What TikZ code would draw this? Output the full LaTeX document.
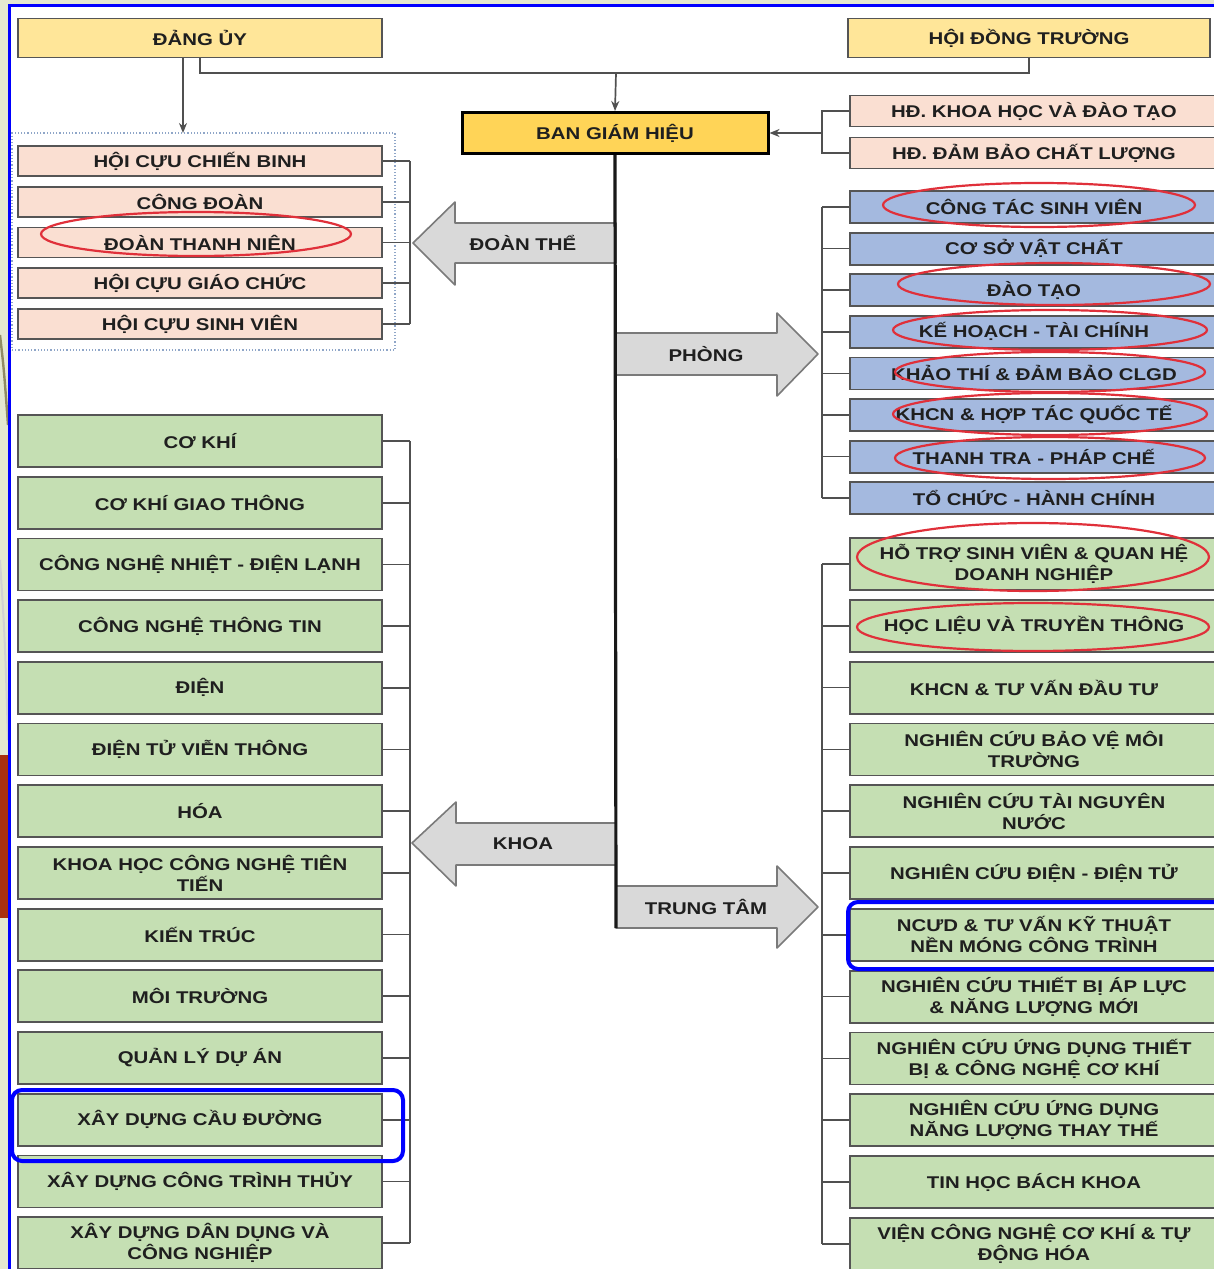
\documentclass[tikz,border=0pt]{standalone}
\usepackage{fontspec}
\newfontfamily\orgfont{Liberation Sans}[FakeStretch=1.2]
\usetikzlibrary{arrows.meta}
\definecolor{yel}{HTML}{FFE699}
\definecolor{yeldark}{HTML}{FFD457}
\definecolor{peach}{HTML}{FADFD2}
\definecolor{blu}{HTML}{A4B9DF}
\definecolor{grn}{HTML}{C5DFB3}
\definecolor{boxline}{HTML}{555555}
\definecolor{connline}{HTML}{505050}
\definecolor{arrfill}{HTML}{D9D9D9}
\definecolor{arrline}{HTML}{7A7A7A}
\definecolor{txt}{HTML}{1F1F1F}
\definecolor{ringred}{HTML}{E0303A}
\definecolor{dotblue}{HTML}{8FA6C8}
\definecolor{bgside}{HTML}{E4E8D0}
\definecolor{bgred}{HTML}{A8300F}

\begin{document}
\begin{tikzpicture}[x=0.5pt,y=-0.5pt,
 box/.style={draw=boxline,line width=0.9pt,minimum width=182pt,align=center,text=txt,inner sep=1pt,
  font=\orgfont\bfseries\fontsize{8.5}{10.5}\selectfont},
 headbox/.style={box,fill=yel,minimum height=19.5pt},
 dtbox/.style={box,fill=peach,minimum height=15pt},
 hdbox/.style={box,fill=peach,minimum width=184pt,minimum height=15.5pt},
 phbox/.style={box,fill=blu,minimum width=184pt,minimum height=16pt},
 kbox/.style={box,fill=grn,minimum height=26pt},
 tbox/.style={box,fill=grn,minimum width=184pt,minimum height=26pt},
 conn/.style={draw=connline,line width=0.85pt},
 bigarrow/.style={fill=arrfill,draw=arrline,line width=0.8pt,line join=round},
 alabel/.style={text=txt,font=\orgfont\bfseries\fontsize{8.5}{10.5}\selectfont},
 redring/.style={draw=ringred,line width=1.1pt},
 bluering/.style={draw=blue,line width=2pt,rounded corners=5pt}]
\useasboundingbox (0,0) rectangle (1214,1269);
\fill[bgside] (0,0) rectangle (1214,1269);
\fill[white] (9,5) rectangle (1214,1269);
\fill[bgred] (0,755) rectangle (8,918);
\draw[gray!70!olive,line width=1.2pt] (0,335) .. controls (4,370) .. (8,425);
\draw[gray!35,line width=1pt] (0,560) .. controls (5,640) .. (8,740);
\draw[blue,line width=1.5pt] (9,1269) -- (9,5) -- (1214,5);

\node[draw=dotblue,densely dotted,line width=0.6pt,minimum width=191.5pt,minimum height=108.5pt,outer sep=0pt] (dtgroup) at (203.5,241.5) {};

\node[headbox] (dang) at (200,38) {ĐẢNG ỦY};
\node[headbox,minimum width=181pt] (hdt) at (1029,38) {HỘI ĐỒNG TRƯỜNG};
\node[box,fill=yeldark,draw=black,line width=1.5pt,minimum width=153pt,minimum height=20.5pt] (bgh) at (615,133) {BAN GIÁM HIỆU};

\node[hdbox] (hd1) at (1034,111) {HĐ. KHOA HỌC VÀ ĐÀO TẠO};
\node[hdbox] (hd2) at (1034,153) {HĐ. ĐẢM BẢO CHẤT LƯỢNG};

\node[dtbox] (dt1) at (200,161) {HỘI CỰU CHIẾN BINH};
\node[dtbox] (dt2) at (200,201.75) {CÔNG ĐOÀN};
\node[dtbox] (dt3) at (200,242.5) {ĐOÀN THANH NIÊN};
\node[dtbox] (dt4) at (200,283.25) {HỘI CỰU GIÁO CHỨC};
\node[dtbox] (dt5) at (200,324) {HỘI CỰU SINH VIÊN};

\node[phbox] (ph1) at (1034,207) {CÔNG TÁC SINH VIÊN};
\node[phbox] (ph2) at (1034,248.6) {CƠ SỞ VẬT CHẤT};
\node[phbox] (ph3) at (1034,290.2) {ĐÀO TẠO};
\node[phbox] (ph4) at (1034,331.8) {KẾ HOẠCH - TÀI CHÍNH};
\node[phbox] (ph5) at (1034,373.4) {KHẢO THÍ \& ĐẢM BẢO CLGD};
\node[phbox] (ph6) at (1034,415) {KHCN \& HỢP TÁC QUỐC TẾ};
\node[phbox] (ph7) at (1034,456.6) {THANH TRA - PHÁP CHẾ};
\node[phbox] (ph8) at (1034,498.2) {TỔ CHỨC - HÀNH CHÍNH};

\node[kbox] (kh1) at (200,441) {CƠ KHÍ};
\node[kbox] (kh2) at (200,502.7) {CƠ KHÍ GIAO THÔNG};
\node[kbox] (kh3) at (200,564.4) {CÔNG NGHỆ NHIỆT - ĐIỆN LẠNH};
\node[kbox] (kh4) at (200,626.1) {CÔNG NGHỆ THÔNG TIN};
\node[kbox] (kh5) at (200,687.8) {ĐIỆN};
\node[kbox] (kh6) at (200,749.5) {ĐIỆN TỬ VIỄN THÔNG};
\node[kbox] (kh7) at (200,811.2) {HÓA};
\node[kbox] (kh8) at (200,872.9) {KHOA HỌC CÔNG NGHỆ TIÊN\\TIẾN};
\node[kbox] (kh9) at (200,934.6) {KIẾN TRÚC};
\node[kbox] (kh10) at (200,996.3) {MÔI TRƯỜNG};
\node[kbox] (kh11) at (200,1058) {QUẢN LÝ DỰ ÁN};
\node[kbox] (kh12) at (200,1119.7) {XÂY DỰNG CẦU ĐƯỜNG};
\node[kbox] (kh13) at (200,1181.4) {XÂY DỰNG CÔNG TRÌNH THỦY};
\node[kbox] (kh14) at (200,1243.1) {XÂY DỰNG DÂN DỤNG VÀ\\CÔNG NGHIỆP};

\node[tbox] (tt1) at (1034,564) {HỖ TRỢ SINH VIÊN \& QUAN HỆ\\DOANH NGHIỆP};
\node[tbox] (tt2) at (1034,625.8) {HỌC LIỆU VÀ TRUYỀN THÔNG};
\node[tbox] (tt3) at (1034,687.6) {KHCN \& TƯ VẤN ĐẦU TƯ};
\node[tbox] (tt4) at (1034,749.4) {NGHIÊN CỨU BẢO VỆ MÔI\\TRƯỜNG};
\node[tbox] (tt5) at (1034,811.2) {NGHIÊN CỨU TÀI NGUYÊN\\NƯỚC};
\node[tbox] (tt6) at (1034,873) {NGHIÊN CỨU ĐIỆN - ĐIỆN TỬ};
\node[tbox] (tt7) at (1034,934.8) {NCƯD \& TƯ VẤN KỸ THUẬT\\NỀN MÓNG CÔNG TRÌNH};
\node[tbox] (tt8) at (1034,996.6) {NGHIÊN CỨU THIẾT BỊ ÁP LỰC\\\& NĂNG LƯỢNG MỚI};
\node[tbox] (tt9) at (1034,1058.4) {NGHIÊN CỨU ỨNG DỤNG THIẾT\\BỊ \& CÔNG NGHỆ CƠ KHÍ};
\node[tbox] (tt10) at (1034,1120.2) {NGHIÊN CỨU ỨNG DỤNG\\NĂNG LƯỢNG THAY THẾ};
\node[tbox] (tt11) at (1034,1182) {TIN HỌC BÁCH KHOA};
\node[tbox] (tt12) at (1034,1243.8) {VIỆN CÔNG NGHỆ CƠ KHÍ \& TỰ\\ĐỘNG HÓA};

\coordinate (top) at (616,73);
\coordinate (dtin) at (183,133);
\coordinate (hdb) at (822,133);
\coordinate (spine) at (616,928);
\coordinate (lx) at (410,0);
\coordinate (rx) at (822,0);
\draw[conn] (dang.south) |- (top) -| (hdt.south);
\draw[conn,-{Stealth[length=5pt,width=4pt]}] (top) -- (bgh.north);
\draw[conn,-{Stealth[length=5pt,width=4pt]}] (dang.south -| dtin) -- (dtin);
\draw[conn] (hd1.west) -| (hdb) |- (hd2.west);
\draw[conn,-{Stealth[length=5pt,width=4pt]}] (hdb) -- (bgh.east);

\draw[bigarrow] (616,223) -- (455,223) -- (455,202) -- (413,243) -- (455,285) -- (455,263) -- (616,263) -- cycle;
\draw[bigarrow] (616,333) -- (777,333) -- (777,313) -- (818,354) -- (777,396) -- (777,375) -- (616,375) -- cycle;
\draw[bigarrow] (616,823) -- (456,823) -- (456,802) -- (412,843) -- (456,886) -- (456,865) -- (616,865) -- cycle;
\draw[bigarrow] (616,886) -- (777,886) -- (777,866) -- (818,907) -- (777,948) -- (777,928) -- (616,928) -- cycle;
\node[alabel] (lbdt) at (523,243) {ĐOÀN THỂ};
\node[alabel] (lbph) at (706,354) {PHÒNG};
\node[alabel] (lbkh) at (523,844) {KHOA};
\node[alabel] (lbtt) at (706,907) {TRUNG TÂM};
\draw[black!90,line width=1.6pt] (bgh.south) -- (spine);

\draw[conn] (dt1.east -| lx) -- (dt5.east -| lx)
 (dt1.east) -- (dt1.east -| lx) (dt2.east) -- (dt2.east -| lx) (dt3.east) -- (dt3.east -| lx)
 (dt4.east) -- (dt4.east -| lx) (dt5.east) -- (dt5.east -| lx);
\draw[conn] (kh1.east -| lx) -- (kh14.east -| lx)
 (kh1.east) -- (kh1.east -| lx) (kh2.east) -- (kh2.east -| lx) (kh3.east) -- (kh3.east -| lx)
 (kh4.east) -- (kh4.east -| lx) (kh5.east) -- (kh5.east -| lx) (kh6.east) -- (kh6.east -| lx)
 (kh7.east) -- (kh7.east -| lx) (kh8.east) -- (kh8.east -| lx) (kh9.east) -- (kh9.east -| lx)
 (kh10.east) -- (kh10.east -| lx) (kh11.east) -- (kh11.east -| lx) (kh12.east) -- (kh12.east -| lx)
 (kh13.east) -- (kh13.east -| lx) (kh14.east) -- (kh14.east -| lx);
\draw[conn] (ph1.west -| rx) -- (ph8.west -| rx)
 (ph1.west) -- (ph1.west -| rx) (ph2.west) -- (ph2.west -| rx) (ph3.west) -- (ph3.west -| rx)
 (ph4.west) -- (ph4.west -| rx) (ph5.west) -- (ph5.west -| rx) (ph6.west) -- (ph6.west -| rx)
 (ph7.west) -- (ph7.west -| rx) (ph8.west) -- (ph8.west -| rx);
\draw[conn] (tt1.west -| rx) -- (tt12.west -| rx)
 (tt1.west) -- (tt1.west -| rx) (tt2.west) -- (tt2.west -| rx) (tt3.west) -- (tt3.west -| rx)
 (tt4.west) -- (tt4.west -| rx) (tt5.west) -- (tt5.west -| rx) (tt6.west) -- (tt6.west -| rx)
 (tt7.west) -- (tt7.west -| rx) (tt8.west) -- (tt8.west -| rx) (tt9.west) -- (tt9.west -| rx)
 (tt10.west) -- (tt10.west -| rx) (tt11.west) -- (tt11.west -| rx) (tt12.west) -- (tt12.west -| rx);

\draw[redring] (196,234) ellipse [x radius=77.5pt,y radius=11pt];
\draw[redring] (1039,205) ellipse [x radius=78pt,y radius=11pt];
\draw[redring] (1054,284) ellipse [x radius=78pt,y radius=10.5pt];
\draw[redring] (1050,330) ellipse [x radius=78.5pt,y radius=10pt];
\draw[redring] (1050,372) ellipse [x radius=77.5pt,y radius=10pt];
\draw[redring] (1050,414) ellipse [x radius=78.5pt,y radius=10.5pt];
\draw[redring] (1050,458) ellipse [x radius=77.5pt,y radius=10.5pt];
\draw[redring] (1033,557) ellipse [x radius=88pt,y radius=17pt];
\draw[redring] (1033,627) ellipse [x radius=88pt,y radius=12pt];
\draw[bluering] (848,902) rectangle (1226,969);
\draw[bluering] (12,1090) rectangle (403,1161);
\end{tikzpicture}
\end{document}
